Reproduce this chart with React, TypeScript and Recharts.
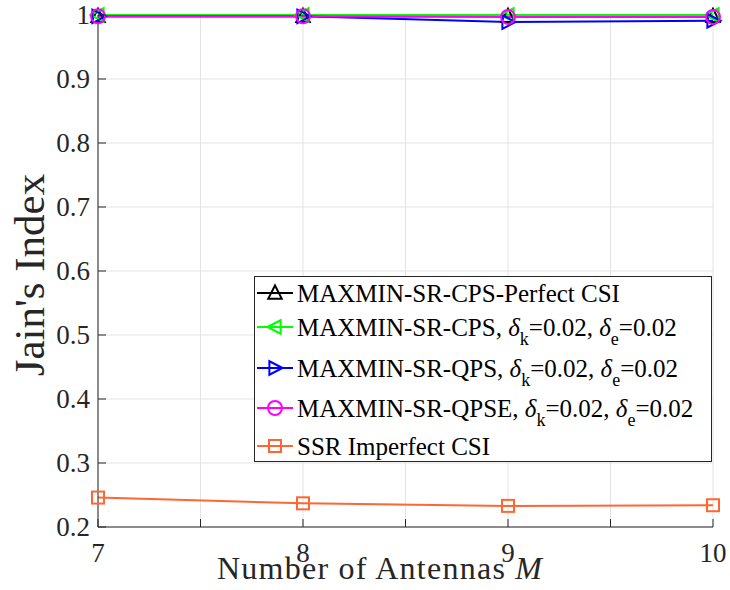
import React from "react";
import { LineChart, Line, XAxis, YAxis, CartesianGrid, Legend, Label } from "recharts";

// Number of antennas M on the x axis
const antennas = [7, 8, 9, 10];

// Jain's fairness index per scheme
const perfectCsi = [0.998, 0.998, 0.998, 0.998];
const cps = [1.0, 1.0, 1.0, 1.0];
const qps = [0.998, 0.998, 0.989, 0.991];
const qpse = [0.998, 0.998, 0.997, 0.997];
const ssr = [0.246, 0.237, 0.233, 0.234];

const xTicks = [7, 7.5, 8, 8.5, 9, 9.5, 10];
const yTicks = [0.2, 0.3, 0.4, 0.5, 0.6, 0.7, 0.8, 0.9, 1];

const FONT = "'Times New Roman', Times, 'Liberation Serif', 'DejaVu Serif', serif";
const serif = { fontFamily: FONT };
const AXIS = "#262626";

type Shape = "up" | "left" | "right" | "circle" | "square";

const series: { key: string; color: string; shape: Shape; label: string; sub?: boolean }[] = [
  { key: "perfect", color: "#000000", shape: "up", label: "MAXMIN-SR-CPS-Perfect CSI" },
  { key: "cps", color: "#00ff00", shape: "left", label: "MAXMIN-SR-CPS,", sub: true },
  { key: "qps", color: "#0000ff", shape: "right", label: "MAXMIN-SR-QPS,", sub: true },
  { key: "qpse", color: "#ff00ff", shape: "circle", label: "MAXMIN-SR-QPSE,", sub: true },
  { key: "ssr", color: "#ff6633", shape: "square", label: "SSR Imperfect CSI" },
];

const rows = antennas.map((m, i) => ({
  m,
  perfect: perfectCsi[i],
  cps: cps[i],
  qps: qps[i],
  qpse: qpse[i],
  ssr: ssr[i],
}));

function Marker({ cx, cy, shape, color }: { cx: number; cy: number; shape: Shape; color: string }) {
  const s = 7.5;
  const common = { fill: "none", stroke: color, strokeWidth: 2 };
  switch (shape) {
    case "up":
      return <polygon {...common} points={`${cx},${cy - s} ${cx - s * 0.9},${cy + s * 0.75} ${cx + s * 0.9},${cy + s * 0.75}`} />;
    case "left":
      return <polygon {...common} points={`${cx - s},${cy} ${cx + s * 0.75},${cy - s * 0.9} ${cx + s * 0.75},${cy + s * 0.9}`} />;
    case "right":
      return <polygon {...common} points={`${cx + s},${cy} ${cx - s * 0.75},${cy - s * 0.9} ${cx - s * 0.75},${cy + s * 0.9}`} />;
    case "circle":
      return <circle {...common} cx={cx} cy={cy} r={7} />;
    default:
      return <rect {...common} x={cx - 6} y={cy - 6} width={12} height={12} />;
  }
}

const makeDot = (shape: Shape, color: string) => (props: any) => (
  <Marker key={`${shape}-${props.index}`} cx={props.cx} cy={props.cy} shape={shape} color={color} />
);

// inward ticks, MATLAB style
function XTick({ x, y, payload }: any) {
  const v = payload.value as number;
  return (
    <g>
      <line x1={x} y1={y} x2={x} y2={y - 8} stroke={AXIS} strokeWidth={1} />
      {Number.isInteger(v) && (
        <text x={x} y={y + 35} textAnchor="middle" style={serif} fontSize={27} fill={AXIS}>
          {v}
        </text>
      )}
    </g>
  );
}

function YTick({ x, y, payload }: any) {
  const v = payload.value as number;
  return (
    <g>
      <line x1={x} y1={y} x2={x + 8} y2={y} stroke={AXIS} strokeWidth={1} />
      <text x={x - 8} y={y} dy="0.34em" textAnchor="end" style={serif} fontSize={27} fill={AXIS}>
        {v === 1 ? "1" : v.toFixed(1)}
      </text>
    </g>
  );
}

function LegendBox() {
  const lineY = [17, 51, 92, 132, 170];
  return (
    <svg width={458} height={186} style={{ display: "block" }}>
      <rect x={0.5} y={0.5} width={457} height={185} fill="#ffffff" stroke={AXIS} strokeWidth={1} />
      {series.map((s, i) => {
        const y = lineY[i];
        return (
          <g key={s.key}>
            <line x1={3} x2={39} y1={y} y2={y} stroke={s.color} strokeWidth={2} />
            <Marker cx={21} cy={y} shape={s.shape} color={s.color} />
            <text x={43} y={y + 9} style={serif} fontSize={25} fill="#000">
              {s.label}
              {s.sub && (
                <>
                  <tspan fontStyle="italic"> δ</tspan>
                  <tspan fontSize={18} dy={9}>k</tspan>
                  <tspan dy={-9}>=0.02, </tspan>
                  <tspan fontStyle="italic">δ</tspan>
                  <tspan fontSize={18} dy={9}>e</tspan>
                  <tspan dy={-9}>=0.02</tspan>
                </>
              )}
            </text>
          </g>
        );
      })}
    </svg>
  );
}

export default function App() {
  return (
    <div style={{ width: 730, height: 590, background: "#fff", fontFamily: FONT }}>
      <style>{"body{margin:0}"}</style>
      <LineChart width={730} height={590} data={rows} margin={{ top: 15, right: 17, bottom: 0, left: 0 }}>
        <CartesianGrid stroke="#e3e3e3" strokeWidth={1} />
        <XAxis
          dataKey="m"
          type="number"
          domain={[7, 10]}
          ticks={xTicks}
          interval={0}
          height={63}
          tickSize={0}
          tickMargin={0}
          tickLine={false}
          axisLine={{ stroke: AXIS }}
          tick={<XTick />}
        >
          <Label
            content={() => (
              <text
                x={217}
                y={579}
                textLength={325}
                lengthAdjust="spacing"
                style={serif}
                fontSize={32}
                fill={AXIS}
              >
                Number of Antennas <tspan fontStyle="italic">M</tspan>
              </text>
            )}
          />
        </XAxis>
        <YAxis
          type="number"
          domain={[0.2, 1]}
          ticks={yTicks}
          interval={0}
          width={98}
          tickSize={0}
          tickMargin={0}
          tickLine={false}
          axisLine={{ stroke: AXIS }}
          tick={<YTick />}
        >
          <Label
            content={({ viewBox }: any) => {
              const cy = viewBox.y + viewBox.height / 2 + 4;
              return (
                <text
                  x={44}
                  y={cy}
                  transform={`rotate(-90 44 ${cy})`}
                  textAnchor="middle"
                  style={serif}
                  fontSize={43}
                  fill={AXIS}
                >
                  Jain's Index
                </text>
              );
            }}
          />
        </YAxis>
        <Legend
          layout="vertical"
          align="center"
          verticalAlign="middle"
          content={() => <LegendBox />}
          wrapperStyle={{ left: 254, top: 276, width: 458, height: 186 }}
        />
        {series.map((s) => (
          <Line
            key={s.key}
            type="linear"
            dataKey={s.key}
            stroke={s.color}
            strokeWidth={2}
            dot={makeDot(s.shape, s.color)}
            activeDot={false}
            isAnimationActive={false}
          />
        ))}
      </LineChart>
    </div>
  );
}
